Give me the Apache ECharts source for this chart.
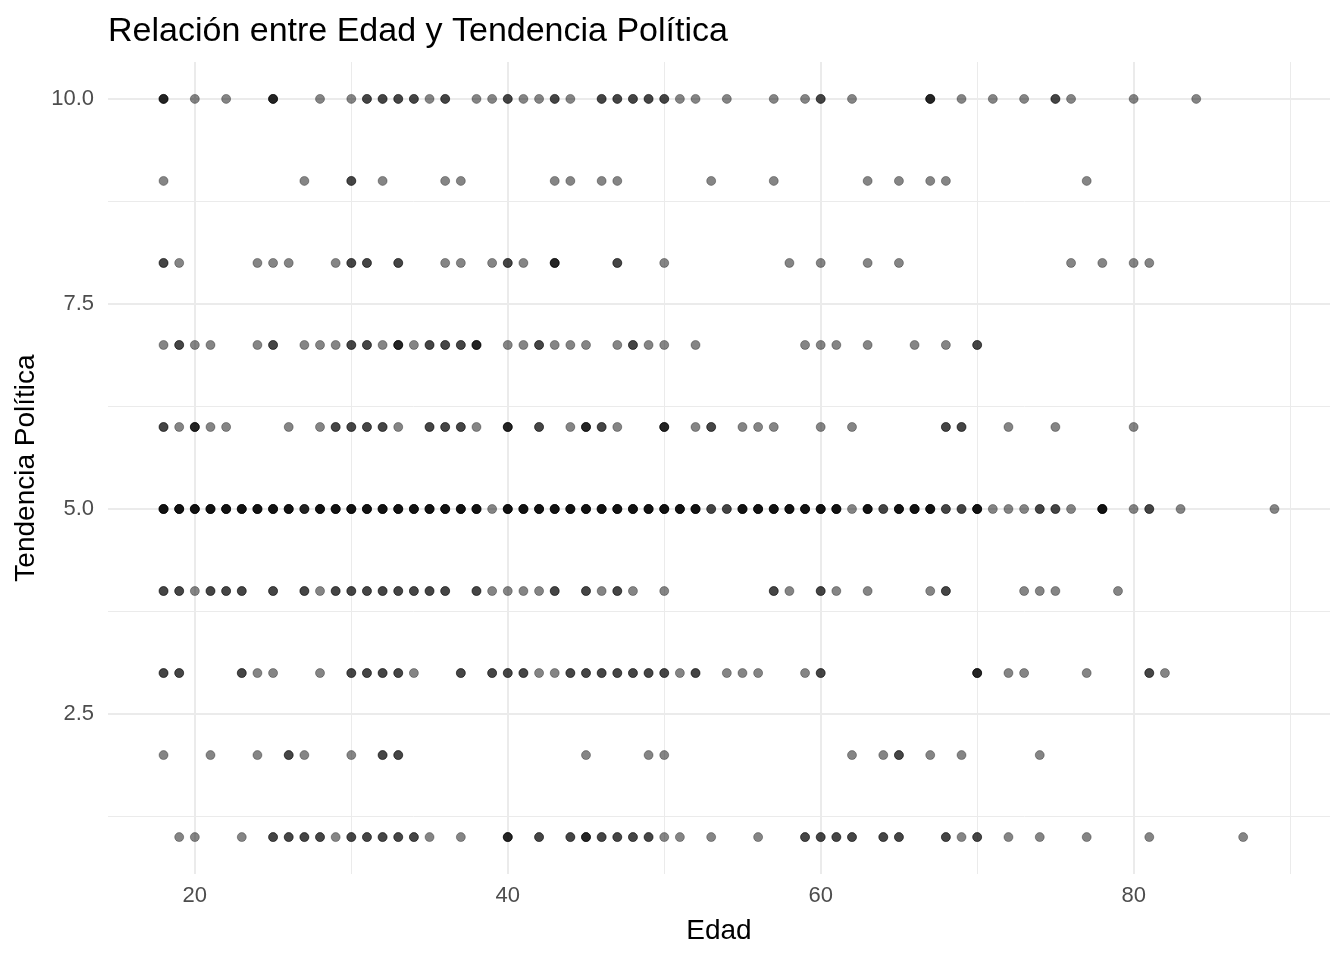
<!DOCTYPE html>
<html>
<head>
<meta charset="utf-8">
<title>Relación entre Edad y Tendencia Política</title>
<script src="https://cdn.jsdelivr.net/npm/echarts@6.0.0/dist/echarts.min.js"></script>
<style>
  html, body { margin: 0; padding: 0; background: #fff; }
  #chart { width: 1344px; height: 960px; }
</style>
</head>
<body>
<div id="chart"></div>
<script>
// respondents per tendency level: [edad, how many people at that point]
const tend10 = [[18,3],[20,1],[22,1],[25,3],[28,1],[30,1],[31,2],[32,2],[33,2],[34,2],[35,1],[36,2],[38,1],[39,1],[40,2],[41,1],[42,1],[43,2],[44,1],[46,2],[47,2],[48,2],[49,2],[50,2],[51,1],[52,1],[54,1],[57,1],[59,1],[60,2],[62,1],[67,3],[69,1],[71,1],[73,1],[75,2],[76,1],[80,1],[84,1]];
const tend9 = [[18,1],[27,1],[30,2],[32,1],[36,1],[37,1],[43,1],[44,1],[46,1],[47,1],[53,1],[57,1],[63,1],[65,1],[67,1],[68,1],[77,1]];
const tend8 = [[18,2],[19,1],[24,1],[25,1],[26,1],[29,1],[30,2],[31,2],[33,2],[36,1],[37,1],[39,1],[40,2],[41,1],[43,3],[47,2],[50,1],[58,1],[60,1],[63,1],[65,1],[76,1],[78,1],[80,1],[81,1]];
const tend7 = [[18,1],[19,2],[20,1],[21,1],[24,1],[25,2],[27,1],[28,1],[29,1],[30,2],[31,2],[32,1],[33,3],[34,1],[35,2],[36,2],[37,2],[38,3],[40,1],[41,1],[42,2],[43,1],[44,1],[45,1],[47,1],[48,2],[49,1],[50,1],[52,1],[59,1],[60,1],[61,1],[63,1],[66,1],[68,1],[70,2]];
const tend6 = [[18,2],[19,1],[20,3],[21,1],[22,1],[26,1],[28,1],[29,2],[30,2],[31,2],[32,2],[33,1],[35,2],[36,2],[37,2],[38,1],[40,3],[42,2],[44,1],[45,3],[46,2],[47,1],[50,3],[52,1],[53,2],[55,1],[56,1],[57,1],[60,1],[62,1],[68,2],[69,2],[72,1],[75,1],[80,1]];
const tend5 = [[18,4],[19,4],[20,4],[21,4],[22,4],[23,4],[24,4],[25,4],[26,4],[27,3],[28,4],[29,4],[30,4],[31,4],[32,4],[33,4],[34,4],[35,4],[36,4],[37,4],[38,4],[39,1],[40,4],[41,4],[42,4],[43,4],[44,4],[45,4],[46,4],[47,4],[48,4],[49,4],[50,4],[51,4],[52,4],[53,2],[54,2],[55,4],[56,4],[57,4],[58,4],[59,4],[60,4],[61,4],[62,1],[63,4],[64,2],[65,4],[66,4],[67,4],[68,2],[69,2],[70,4],[71,1],[72,1],[73,1],[74,2],[75,2],[76,1],[78,4],[80,1],[81,2],[83,1],[89,1]];
const tend4 = [[18,2],[19,2],[20,1],[21,2],[22,2],[23,2],[25,2],[27,2],[28,1],[29,2],[30,2],[31,2],[32,2],[33,2],[34,2],[35,2],[36,2],[38,2],[39,1],[40,1],[41,1],[42,1],[43,2],[45,2],[46,1],[47,2],[48,1],[50,1],[57,2],[58,1],[60,2],[61,1],[63,1],[67,1],[68,2],[73,1],[74,1],[75,1],[79,1]];
const tend3 = [[18,2],[19,2],[23,2],[24,1],[25,1],[28,1],[30,2],[31,2],[32,2],[33,2],[34,1],[37,2],[39,2],[40,2],[41,2],[42,1],[43,1],[44,2],[45,2],[46,2],[47,2],[48,2],[49,2],[50,2],[51,1],[52,2],[54,1],[55,1],[56,1],[59,1],[60,2],[70,3],[72,1],[73,1],[77,1],[81,2],[82,1]];
const tend2 = [[18,1],[21,1],[24,1],[26,2],[27,1],[30,1],[32,2],[33,2],[45,1],[49,1],[50,1],[62,1],[64,1],[65,2],[67,1],[69,1],[74,1]];
const tend1 = [[19,1],[20,1],[23,1],[25,2],[26,2],[27,2],[28,2],[29,1],[30,2],[31,2],[32,2],[33,2],[34,2],[35,1],[37,1],[40,3],[42,2],[44,2],[45,3],[46,2],[47,2],[48,2],[49,2],[50,1],[51,1],[53,1],[56,1],[59,2],[60,2],[61,2],[62,2],[64,2],[65,2],[68,2],[69,1],[70,2],[72,1],[74,1],[77,1],[81,1],[87,1]];

const levels = [10, 9, 8, 7, 6, 5, 4, 3, 2, 1];
const byLevel = [tend10, tend9, tend8, tend7, tend6, tend5, tend4, tend3, tend2, tend1];

const xMajor = [20, 40, 60, 80];
const xMinor = [30, 50, 70, 90];
const yMajor = [2.5, 5, 7.5, 10];
const yMinor = [1.25, 3.75, 6.25, 8.75];

// one symbol per respondent so that overlaps get darker, like alpha in ggplot
const points = [];
byLevel.forEach((rows, i) => {
  rows.forEach(([edad, n]) => {
    for (let k = 0; k < n; k++) points.push([edad, levels[i]]);
  });
});

// ggplot default expansion: 5% of the data range on each side
const xs = points.map(p => p[0]);
const xLo = Math.min(...xs), xHi = Math.max(...xs);
const yLo = 1, yHi = 10;
const xPad = (xHi - xLo) * 0.05, yPad = (yHi - yLo) * 0.05;

const font = "'Liberation Sans', Arial, sans-serif";
const gridColor = '#ebebeb';

function axisPair(kind, min, max, major, minor) {
  const base = {
    type: 'value', min: min, max: max, gridIndex: 0,
    position: kind === 'x' ? 'bottom' : 'left',
    axisLine: { show: false }
  };
  return [
    Object.assign({}, base, {
      axisTick: { show: false, customValues: major },
      axisLabel: {
        customValues: major, color: '#4d4d4d', fontFamily: font, fontSize: 22,
        margin: kind === 'x' ? 11 : 14,
        formatter: v => kind === 'y' ? v.toFixed(1) : String(v)
      },
      splitLine: { show: true, lineStyle: { color: gridColor, width: 2 } }
    }),
    Object.assign({}, base, {
      axisTick: { show: false, customValues: minor },
      axisLabel: { show: false, customValues: minor },
      splitLine: { show: true, lineStyle: { color: gridColor, width: 1 } }
    })
  ];
}

const xAxes = axisPair('x', xLo - xPad, xHi + xPad, xMajor, xMinor);
const yAxes = axisPair('y', yLo - yPad, yHi + yPad, yMajor, yMinor);
xAxes[0].name = 'Edad';
xAxes[0].nameLocation = 'middle';
xAxes[0].nameGap = 43;
xAxes[0].nameTextStyle = { color: '#000', fontFamily: font, fontSize: 28 };
yAxes[0].name = 'Tendencia Política';
yAxes[0].nameLocation = 'middle';
yAxes[0].nameGap = 66;
yAxes[0].nameTextStyle = { color: '#000', fontFamily: font, fontSize: 28 };

const chart = echarts.init(document.getElementById('chart'), null, { renderer: 'canvas' });
chart.setOption({
  backgroundColor: '#fff',
  animation: false,
  title: {
    text: 'Relación entre Edad y Tendencia Política',
    left: 103, top: 10,
    textStyle: { color: '#000', fontFamily: font, fontSize: 34, fontWeight: 'normal' }
  },
  grid: { left: 108, right: 14, top: 62, bottom: 86, containLabel: false },
  xAxis: xAxes,
  yAxis: yAxes,
  series: [{
    type: 'scatter',
    xAxisIndex: 0, yAxisIndex: 0,
    symbol: 'circle',
    symbolSize: 9,
    data: points,
    itemStyle: { color: 'rgba(0,0,0,0.6)', borderColor: 'rgba(0,0,0,0.5)', borderWidth: 0.8 }
  }]
});
</script>
</body>
</html>
